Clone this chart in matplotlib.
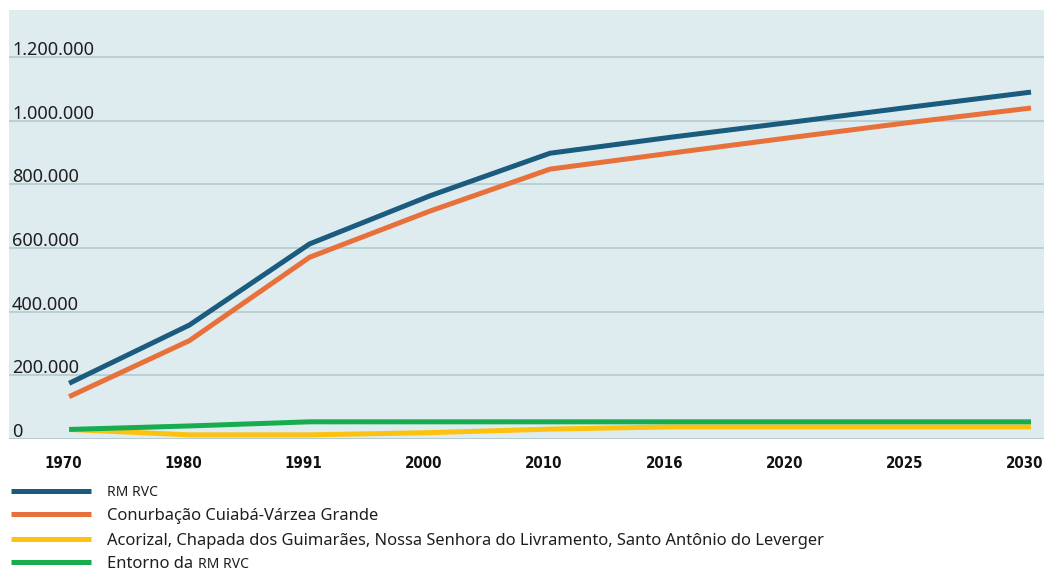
import matplotlib
matplotlib.use("Agg")
import matplotlib.pyplot as plt
from matplotlib.lines import Line2D
from matplotlib.transforms import ScaledTranslation

years = ["1970", "1980", "1991", "2000", "2010", "2016", "2020", "2025", "2030"]
rm_rvc = [175000, 358000, 613000, 764000, 898000, 948000, 995000, 1043000, 1090000]
conurbacao = [133000, 309000, 571000, 716000, 848000, 898000, 947000, 995000, 1040000]
acorizal = [30000, 13000, 13000, 20000, 31000, 38000, 38000, 38000, 38000]
entorno = [30000, 41000, 54000, 54000, 54000, 54000, 54000, 54000, 54000]

series_labels = [
    ("", "RM RVC"),
    ("Conurbação Cuiabá-Várzea Grande", ""),
    ("Acorizal, Chapada dos Guimarães, Nossa Senhora do Livramento, Santo Antônio do Leverger", ""),
    ("Entorno da ", "RM RVC"),
]
colors = ["#1a5b7e", "#e8703a", "#fdc20f", "#17ad4f"]
yticks = [0, 200000, 400000, 600000, 800000, 1000000, 1200000]

W, H = 1044, 570
fig = plt.figure(figsize=(W / 100, H / 100), dpi=100)
ax = fig.add_axes([9 / W, (H - 439) / H, 1 - 9 / W, (439 - 10) / H])
ax.set_facecolor("#deecef")
for s in ax.spines.values():
    s.set_visible(False)

x = list(range(len(years)))
data = [rm_rvc, conurbacao, acorizal, entorno]
for i, (vals, c) in enumerate(zip(data, colors)):
    ax.plot(x, vals, color=c, lw=3.6, solid_capstyle="butt", solid_joinstyle="miter", zorder=3 + i)

ax.set_xlim(-0.5, 8 + 13 / 120.25)
ax.set_ylim(0, 1348000)
ax.set_yticks(yticks)
ax.set_yticklabels([])
ax.tick_params(axis="y", length=0)
ax.grid(axis="y", color="#b3cbd0", lw=1.2, zorder=1)
ax.axhline(0, color="#b3cbd0", lw=2, zorder=1)

ax.set_xticks(x)
ax.set_xticklabels(years, fontfamily="DejaVu Sans", fontstretch="condensed",
                   fontweight="bold", fontsize=10.8, color="#111111")
ax.tick_params(axis="x", length=0, pad=12)
shift = ScaledTranslation(-6 / 100, 0, fig.dpi_scale_trans)
for lbl in ax.get_xticklabels():
    lbl.set_transform(lbl.get_transform() + shift)

def fmt(v):
    return f"{v:,}".replace(",", ".")

for v in yticks:
    ax.annotate(fmt(v), xy=(0, v), xycoords=ax.get_yaxis_transform(),
                xytext=(3, 2), textcoords="offset pixels", va="baseline", ha="left",
                fontfamily="Noto Sans", fontsize=13, color="#1e1e1e", zorder=10)

# manual legend
rows_y = [490.7, 514.3, 538.7, 562.0]
fig.canvas.draw()
renderer = fig.canvas.get_renderer()
for (normal, small), c, yy in zip(series_labels, colors, rows_y):
    yf = 1 - yy / H
    fig.add_artist(Line2D([11 / W, 91 / W], [yf, yf], color=c, lw=3.6,
                          solid_capstyle="butt", transform=fig.transFigure))
    xpos = 107
    if normal:
        t = fig.text(xpos / W, yf, normal, fontfamily="Noto Sans", fontsize=11.9,
                     color="#1e1e1e", va="center_baseline", ha="left")
        bb = t.get_window_extent(renderer)
        xpos = bb.x1 + 1
    if small:
        fig.text(xpos / W, yf, small, fontfamily="Noto Sans", fontsize=10,
                 color="#1e1e1e", va="center_baseline", ha="left")

fig.savefig("out.png", dpi=100)
